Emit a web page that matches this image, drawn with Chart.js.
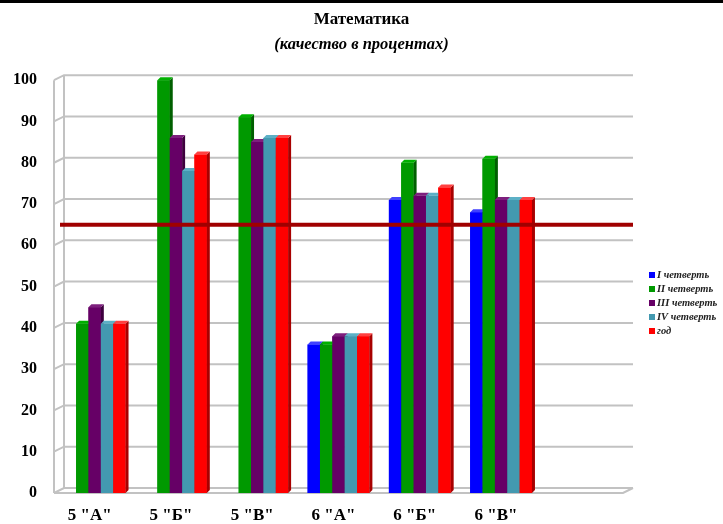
<!DOCTYPE html>
<html lang="ru">
<head>
<meta charset="utf-8">
<script src="https://cdn.jsdelivr.net/npm/chart.js@4.4.1/dist/chart.umd.min.js"></script>
<style>
  html, body { margin: 0; padding: 0; background: #fff; }
  #wrap { width: 723px; height: 521px; border-top: 3px solid #000; }
  canvas { display: block; }
</style>
</head>
<body>
<div id="wrap"><canvas id="chart" width="723" height="521"></canvas></div>
<script>
// данные
const klassy = ['5 "А"', '5 "Б"', '5 "В"', '6 "А"', '6 "Б"', '6 "В"', ''];
const chetvert1 = [null, null, null, 36, 71, 68, null];
const chetvert2 = [41, 100, 91, 36, 80, 81, null];
const chetvert3 = [45, 86, 85, 38, 72, 71, null];
const chetvert4 = [41, 78, 86, 38, 72, 71, null];
const god = [41, 82, 86, 38, 74, 71, null];
const seriesNames = ['I четверть', 'II четверть', 'III четверть', 'IV четверть', 'год'];
const yMin = 0, yMax = 100, yStep = 10;
const porog = 65; // линия порога

const serif = "'Liberation Serif', 'Times New Roman', serif";
const D = 10, DY = 5; // глубина стенок

const colors = [
    { c: '#0000ff', side: '#0000a0', top: '#4040ff' },
    { c: '#009900', side: '#005f00', top: '#00b000' },
    { c: '#660066', side: '#3e003e', top: '#7d1f7d' },
    { c: '#4399b0', side: '#2b6b7c', top: '#5cb0c6' },
    { c: '#ff0000', side: '#a80000', top: '#ff4040' }
];
const seriesData = [chetvert1, chetvert2, chetvert3, chetvert4, god];

const datasets = seriesData.map((d, i) => ({
    label: seriesNames[i],
    data: d,
    backgroundColor: colors[i].c,
    sideColor: colors[i].side,
    topColor: colors[i].top,
    borderWidth: 0,
    categoryPercentage: 0.76,
    barPercentage: 1.0
}));

// задняя стенка и сетка
const wallPlugin = {
    id: 'wall3d',
    beforeDatasetsDraw(chart) {
        const ctx = chart.ctx;
        const { left, right, top, bottom } = chart.chartArea;
        const y = chart.scales.y;
        ctx.save();
        ctx.strokeStyle = '#c2c2c2';
        ctx.lineWidth = 2;
        y.ticks.forEach(t => {
            const py = y.getPixelForValue(t.value);
            ctx.beginPath();
            ctx.moveTo(left, py);
            ctx.lineTo(left + D, py - DY);
            ctx.lineTo(right + D, py - DY);
            ctx.stroke();
        });
        ctx.beginPath();
        ctx.moveTo(left, top); ctx.lineTo(left, bottom);
        ctx.moveTo(left + D, top - DY); ctx.lineTo(left + D, bottom - DY);
        ctx.moveTo(left, bottom); ctx.lineTo(right, bottom); ctx.lineTo(right + D, bottom - DY);
        ctx.stroke();
        ctx.restore();
    }
};

// столбики с боковыми и верхними гранями, слева направо
const barsPlugin = {
    id: 'bars3d',
    afterDatasetsDraw(chart) {
        const ctx = chart.ctx;
        const d = 3;
        ctx.save();
        chart.data.datasets.forEach((ds, k) => {
            const meta = chart.getDatasetMeta(k);
            meta.data.forEach((bar, i) => {
                if (ds.data[i] == null) return;
                bar.draw(ctx);
                const { x, y, base, width } = bar.getProps(['x', 'y', 'base', 'width'], true);
                const l = x - width / 2, r = x + width / 2;
                ctx.fillStyle = ds.sideColor;
                ctx.beginPath();
                ctx.moveTo(r, y); ctx.lineTo(r + d, y - d); ctx.lineTo(r + d, base - d); ctx.lineTo(r, base);
                ctx.closePath(); ctx.fill();
                ctx.fillStyle = ds.topColor;
                ctx.beginPath();
                ctx.moveTo(l, y); ctx.lineTo(l + d, y - d); ctx.lineTo(r + d, y - d); ctx.lineTo(r, y);
                ctx.closePath(); ctx.fill();
            });
        });
        ctx.restore();
    }
};

// линия порога
const porogPlugin = {
    id: 'porog',
    afterDatasetsDraw(chart) {
        const ctx = chart.ctx;
        const { left, right } = chart.chartArea;
        const py = chart.scales.y.getPixelForValue(porog);
        ctx.save();
        ctx.strokeStyle = '#a00000';
        ctx.lineWidth = 4;
        ctx.beginPath();
        ctx.moveTo(left + 6, py);
        ctx.lineTo(right + D, py);
        ctx.stroke();
        ctx.restore();
    }
};

// легенда справа
const legendPlugin = {
    id: 'sideLegend',
    afterDraw(chart) {
        const ctx = chart.ctx;
        const x0 = chart.chartArea.right + 26;
        const y0 = 272, step = 14;
        ctx.save();
        ctx.font = 'italic bold 10.5px ' + serif;
        ctx.textBaseline = 'middle';
        chart.data.datasets.forEach((ds, i) => {
            const yy = y0 + i * step;
            ctx.fillStyle = ds.backgroundColor;
            ctx.fillRect(x0, yy - 3, 6, 6);
            ctx.fillStyle = '#222';
            ctx.fillText(ds.label, x0 + 8, yy);
        });
        ctx.restore();
    }
};

new Chart(document.getElementById('chart'), {
    type: 'bar',
    data: { labels: klassy, datasets: datasets },
    plugins: [wallPlugin, barsPlugin, porogPlugin, legendPlugin],
    options: {
        responsive: false,
        animation: false,
        layout: { padding: 0 },
        plugins: {
            legend: { display: false },
            tooltip: { enabled: false },
            title: {
                display: true, text: 'Математика', color: '#000',
                font: { family: serif, size: 17, weight: 'bold' },
                padding: { top: 6, bottom: 2 }
            },
            subtitle: {
                display: true, text: '(качество в процентах)', color: '#000',
                font: { family: serif, size: 16.5, weight: 'bold', style: 'italic' },
                padding: { top: 3, bottom: 26 }
            }
        },
        scales: {
            x: {
                grid: { display: false, drawTicks: false },
                border: { display: false },
                ticks: {
                    color: '#000', padding: 12, labelOffset: -5,
                    autoSkip: false, maxRotation: 0,
                    font: { family: serif, size: 17, weight: 'bold' }
                },
                afterFit: s => { s.height = 31; }
            },
            y: {
                min: yMin, max: yMax,
                grid: { display: false, drawTicks: false },
                border: { display: false },
                ticks: {
                    stepSize: yStep, color: '#000', padding: 17,
                    font: { family: serif, size: 16, weight: 'bold' }
                },
                afterFit: s => { s.width = 54; }
            },
            yRight: {
                position: 'right',
                grid: { display: false, drawTicks: false },
                border: { display: false },
                ticks: { display: false },
                afterFit: s => { s.width = 100; }
            }
        }
    }
});
</script>
</body>
</html>
